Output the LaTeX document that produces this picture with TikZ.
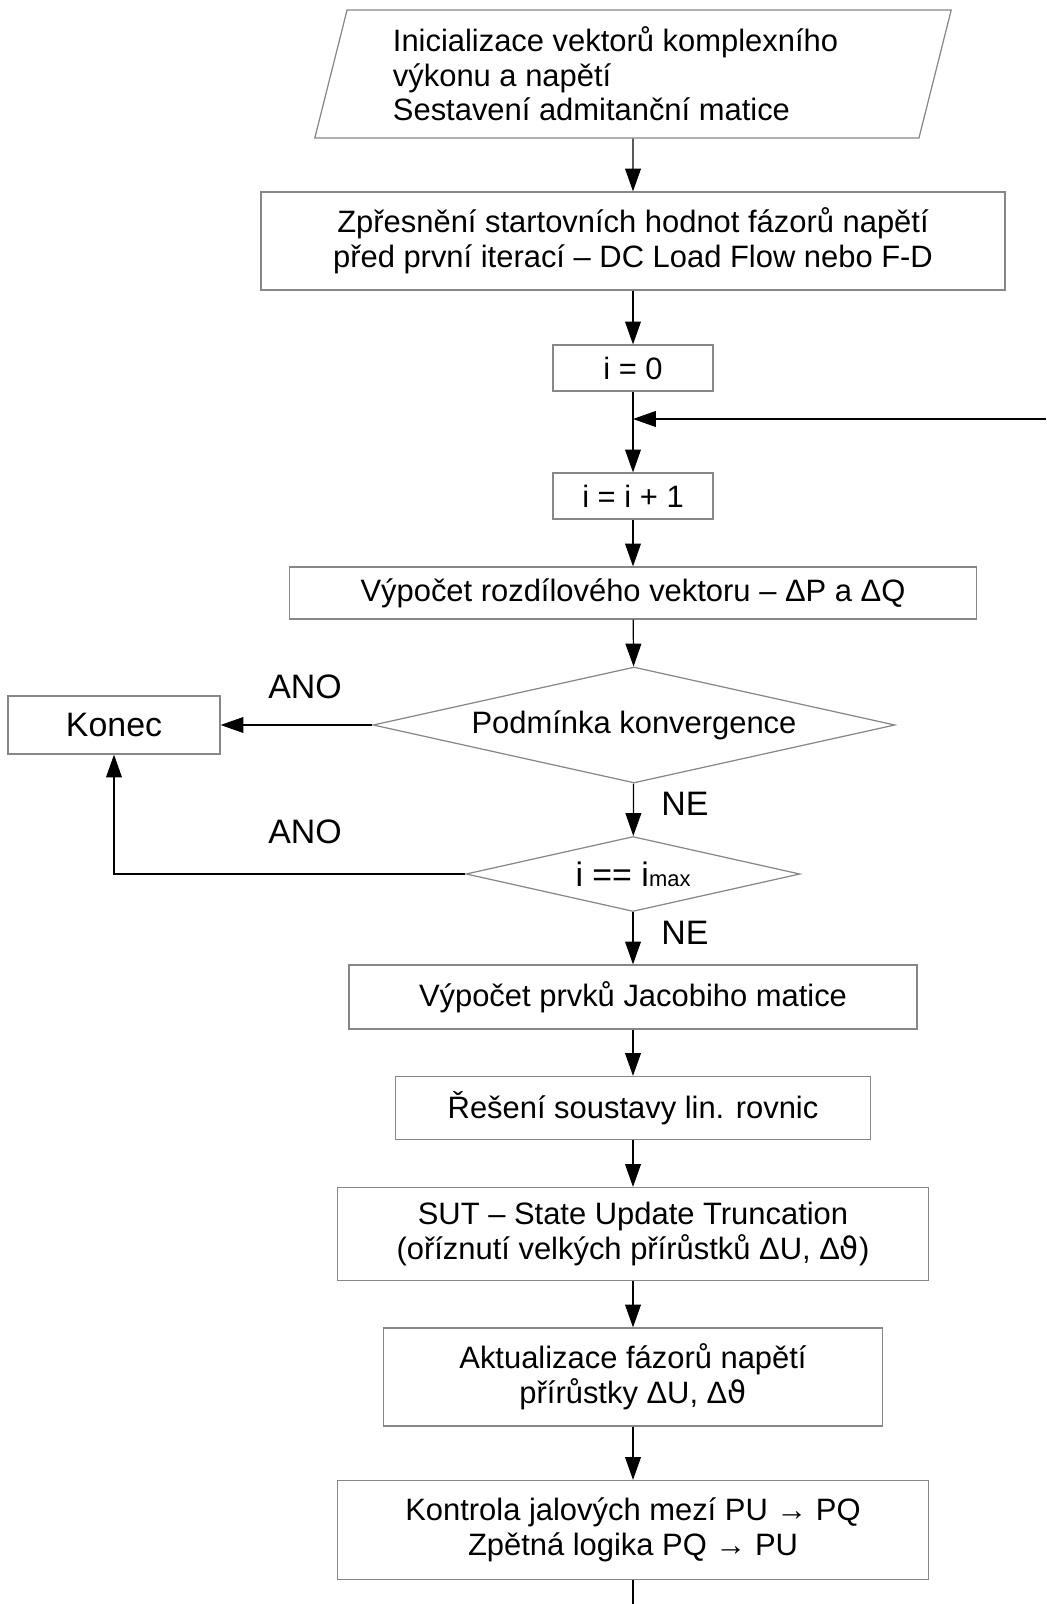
\documentclass[tikz,border=0pt]{standalone}
\usepackage{fontspec}
\setmainfont{Liberation Sans}
\newfontfamily\thetafont{DejaVu Sans}
\usepackage{tikz}
\usetikzlibrary{arrows.meta,shapes.geometric}
\definecolor{framegray}{RGB}{135,135,135}
\newcommand{\bodyfont}{\fontsize{17.6}{19.7}\selectfont}
\newcommand{\bigfont}{\fontsize{19.3}{22}\selectfont}
\newcommand{\vth}{{\thetafont ϑ}}

\begin{document}
\begin{tikzpicture}[x=0.02cm,y=-0.02cm,>={Triangle[length=13pt,width=9pt]},
  every node/.style={align=center,font=\bodyfont},
  box/.style={draw=framegray,line width=0.7pt,inner sep=0pt},
  flow/.style={->,line width=0.7pt}]
  \useasboundingbox (0,0) rectangle (1046,1604);
  \node[box,trapezium,trapezium left angle=74,trapezium right angle=106,trapezium stretches=true,
    minimum width=12.76cm,minimum height=2.56cm,align=left] (init) at (633,74)
    {Inicializace vektorů komplexního\hspace*{0.7cm}\\výkonu a napětí\\Sestavení admitanční matice};
  \node[box,minimum width=14.88cm,minimum height=1.96cm] (zpres) at (633,241)
    {Zpřesnění startovních hodnot fázorů napětí\\před první iterací – DC Load Flow nebo F-D};
  \node[box,minimum width=3.2cm,minimum height=0.92cm] (i0) at (633,368) {i = 0};
  \node[box,minimum width=3.2cm,minimum height=0.92cm] (inc) at (633,496) {i = i + 1};
  \node[box,minimum width=13.74cm,minimum height=1.04cm] (rozdil) at (633,593)
    {Výpočet rozdílového vektoru – ΔP a ΔQ};
  \node[box,diamond,aspect=4.5,minimum width=10.44cm,minimum height=2.32cm] (conv) at (634,725)
    {Podmínka konvergence};
  \node[box,minimum width=4.24cm,minimum height=1.16cm,font=\bigfont] (konec) at (114,725) {Konec};
  \node[box,diamond,aspect=4.45,minimum width=6.68cm,minimum height=1.5cm,font=\bigfont] (imax) at (633,874)
    {i == i{\fontsize{12.5}{14}\selectfont max}};
  \node[box,minimum width=11.36cm,minimum height=1.28cm] (jacobi) at (633,997)
    {Výpočet prvků Jacobiho matice};
  \node[box,minimum width=9.5cm,minimum height=1.26cm] (reseni) at (633,1108)
    {Řešení soustavy lin. rovnic};
  \node[box,minimum width=11.82cm,minimum height=1.86cm] (sut) at (633,1234)
    {SUT – State Update Truncation\\(oříznutí velkých přírůstků ΔU, Δ\vth)};
  \node[box,minimum width=9.98cm,minimum height=1.96cm] (aktual) at (633,1377)
    {Aktualizace fázorů napětí\\přírůstky ΔU, Δ\vth};
  \node[box,minimum width=11.82cm,minimum height=1.98cm] (kontrola) at (633,1530)
    {Kontrola jalových mezí PU → PQ\\Zpětná logika PQ → PU};

  % labels of the branches
  \node[font=\bigfont] (ano1) at (305,687) {ANO};
  \node[font=\bigfont] (ano2) at (305,832) {ANO};
  \node[font=\bigfont] (ne1) at (685,804) {NE};
  \node[font=\bigfont] (ne2) at (685,933) {NE};

  % loose ends at the picture border
  \coordinate (loopin) at (1046,419);
  \coordinate (loopjoin) at (633,419);
  \coordinate (botend) at (633,1604);

  \draw[flow] (init) -- (zpres);
  \draw[flow] (zpres) -- (i0);
  \draw[flow] (i0) -- (inc);
  \draw[flow] (loopin) -- (loopjoin);
  \draw[flow] (inc) -- (rozdil);
  \draw[flow] (rozdil) -- (conv);
  \draw[flow] (conv) -- (konec);
  \draw[flow] (conv) -- (imax);
  \draw[flow] (imax.west) -| (konec.south);
  \draw[flow] (imax) -- (jacobi);
  \draw[flow] (jacobi) -- (reseni);
  \draw[flow] (reseni) -- (sut);
  \draw[flow] (sut) -- (aktual);
  \draw[flow] (aktual) -- (kontrola);
  \draw[line width=0.7pt] (kontrola) -- (botend);
\end{tikzpicture}
\end{document}
